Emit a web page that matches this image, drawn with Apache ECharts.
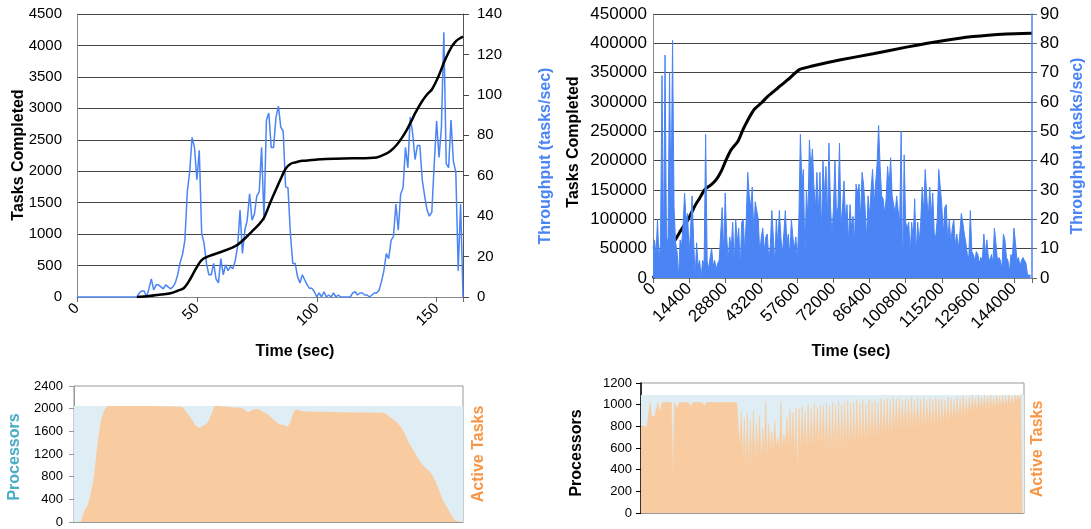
<!DOCTYPE html>
<html>
<head>
<meta charset="utf-8" />
<title>Tasks completed, throughput and active tasks</title>
<script type="text/javascript" src="https://cdn.jsdelivr.net/npm/echarts@6/dist/echarts.min.js"></script>
<style>
  html, body { margin: 0; padding: 0; background: #fff; }
  #main { width: 1091px; height: 529px; }
</style>
</head>
<body>
<div id="main"></div>
<script type="text/javascript">
// ---- short run (left column), time in seconds ----
// throughput, one value per second from t = 0 to 161
var shortRate = [
  0, 0, 0, 0, 0, 0, 0, 0, 0, 0,
  0, 0, 0, 0, 0, 0, 0, 0, 0, 0,
  0, 0, 0, 0, 0, 0, 2, 3, 3, 0,
  4, 9, 3.5, 6, 6, 5, 4, 6, 5, 4,
  5, 7, 11, 17, 21, 28, 52, 62, 79, 74,
  58, 72.6, 31.5, 26.5, 16.6, 11, 11, 16.6, 9, 7,
  19, 11, 16, 13, 15, 14, 18, 25, 43, 21.5,
  33, 38, 51, 38, 41, 50, 52, 74, 38, 87.5,
  91, 74, 74, 89, 94.4, 84, 82, 54.5, 54, 31.5,
  16.6, 16.6, 10, 7, 11, 8.4, 6, 4.3, 4.3, 2.6,
  0, 2, 0, 2.6, 0, 1, 0, 2, 0, 1,
  0, 0, 0, 0, 0, 2, 2.6, 1, 2, 2,
  1, 1, 0, 1, 2, 2, 3.5, 7.6, 13, 21.5,
  19, 28, 30, 46, 33, 51, 54, 74, 64, 89,
  81, 68, 75, 75, 58, 50, 43, 40, 42, 66,
  87, 69, 84, 131, 66, 64, 87.5, 67, 62, 13,
  46, 0
];
var shortDoneT = [25, 30, 35, 39, 42, 44.5, 47, 49.3, 51.4, 53,
  55, 60, 65, 67, 70, 73, 76, 78, 80.5, 83,
  85, 87, 89, 91, 94, 100, 107, 115, 125, 129,
  131, 133.3, 135.5, 137.5, 139.5, 141, 143.8, 146, 148, 150.7,
  153.5, 156.3, 158.3, 160, 161];
var shortDone = [0, 16, 40, 59, 100, 140, 270, 430, 560, 615,
  650, 715, 790, 830, 930, 1045, 1160, 1260, 1490, 1710,
  1880, 2040, 2115, 2140, 2165, 2185, 2200, 2205, 2220, 2280,
  2330, 2417, 2530, 2655, 2800, 2920, 3105, 3220, 3300, 3503,
  3768, 3980, 4075, 4120, 4139];
var shortActiveT = [0, 2.5, 3.9, 5.9, 8, 9.3, 10.7, 12, 13.5, 15.6,
  30, 44.6, 45, 48, 50.8, 52, 53.6, 55, 57, 58.5,
  60.5, 64.6, 67.4, 68.7, 70, 72.1, 74.2, 76.3, 77.6, 79.7,
  82.5, 85.2, 87.3, 88.2, 89.6, 90.7, 92.1, 94.1, 96.2, 107.2,
  118.2, 127.8, 130.6, 133.3, 136.1, 138.8, 141.6, 144.3, 147.8, 150.5,
  152.6, 155.4, 157.5, 159.3, 160.2, 161];
var shortActive = [0, 0, 158, 334, 743, 1212, 1680, 1914, 2031, 2045,
  2045, 2030, 2020, 1856, 1680, 1668, 1709, 1739, 1914, 2045,
  2043, 2031, 2014, 2020, 2002, 1938, 1984, 1996, 1961, 1914,
  1809, 1721, 1709, 1680, 1768, 1914, 1984, 1961, 1949, 1943,
  1932, 1926, 1856, 1768, 1621, 1387, 1182, 1007, 861, 626,
  392, 187, 41, 12, 0, 0];
var shortProcessors = 2048;
var shortEnd = 161;

// ---- long run (right column), time in seconds ----
var longStep = 600; // one sample every 600 s
var longRate = [
  10, 13, 8, 20, 6, 12, 69, 8, 76, 10,
  14, 70, 25, 81, 24, 12, 9, 0, 13, 11,
  18, 29, 20, 22, 8, 17, 28, 13, 0, 12,
  4, 6, 0, 6, 5, 49, 6, 3, 7, 10,
  4, 6, 3, 5, 6, 15, 24, 8, 29, 14,
  6, 14, 10, 19, 4, 20, 12, 17, 3, 19,
  20, 9, 20, 36, 28, 24, 31, 15, 26, 26,
  20, 8, 14, 17, 9, 14, 15, 6, 11, 23,
  14, 5, 20, 11, 23, 14, 8, 15, 23, 12,
  15, 7, 20, 14, 10, 14, 6, 20, 49, 32,
  37, 6, 30, 20, 47, 37, 44, 31, 24, 36,
  22, 36, 15, 40, 28, 38, 20, 46, 25, 14,
  24, 40, 22, 24, 46, 18, 24, 33, 20, 25,
  12, 25, 17, 21, 12, 32, 29, 32, 20, 36,
  32, 24, 13, 28, 21, 30, 37, 25, 32, 39,
  52, 38, 28, 27, 22, 27, 38, 31, 41, 28,
  28, 22, 28, 23, 18, 50, 0, 42, 19, 17,
  19, 8, 19, 13, 27, 8, 19, 12, 19, 31,
  22, 37, 28, 20, 31, 21, 29, 15, 14, 20,
  37, 31, 25, 15, 24, 25, 12, 20, 12, 17,
  20, 11, 15, 10, 15, 22, 19, 15, 12, 8,
  7, 23, 9, 8, 6, 9, 8, 5, 7, 6,
  15, 8, 13, 7, 6, 8, 5, 17, 12, 6,
  7, 6, 3, 15, 13, 7, 6, 2, 8, 7,
  17, 12, 6, 7, 4, 6, 7, 6, 5, 1,
  1, 1
];
var longActive = [
  800, 800, 800, 800, 800, 800, 1020, 890, 890, 890,
  890, 1020, 930, 930, 1020, 1020, 1020, 1020, 1020, 1020,
  1020, 290, 1020, 1020, 960, 1020, 1020, 1020, 1020, 1020,
  1020, 1020, 1020, 980, 1020, 1020, 1020, 1020, 1020, 1020,
  1020, 1020, 990, 1020, 1020, 1020, 1020, 1020, 1020, 1020,
  1020, 1020, 1020, 1020, 1020, 1020, 1020, 1020, 1020, 1020,
  1020, 1020, 1020, 1020, 1020, 600, 940, 450, 880, 420,
  920, 390, 860, 470, 940, 430, 830, 510, 900, 450,
  780, 520, 1025, 480, 820, 560, 760, 520, 850, 600,
  700, 540, 1025, 580, 720, 620, 880, 560, 960, 600,
  930, 520, 970, 340, 960, 560, 990, 600, 940, 540,
  1000, 590, 960, 560, 1010, 600, 980, 570, 1000, 610,
  990, 530, 1010, 520, 990, 540, 1020, 530, 1000, 550,
  1030, 545, 1000, 560, 1020, 570, 1040, 575, 1010, 590,
  1030, 600, 1050, 610, 1020, 615, 1040, 630, 1010, 640,
  1050, 650, 1030, 655, 1050, 660, 1020, 670, 1060, 675,
  1040, 680, 1060, 680, 1050, 680, 1070, 750, 1050, 750,
  1060, 752, 1040, 755, 1060, 755, 1050, 758, 1070, 760,
  1040, 762, 1060, 765, 1050, 770, 1070, 775, 1040, 780,
  1060, 785, 1050, 790, 1070, 795, 1050, 800, 1060, 810,
  1040, 820, 1070, 830, 1060, 840, 1050, 850, 1070, 860,
  1060, 875, 1080, 890, 1050, 905, 1070, 920, 1090, 930,
  1060, 935, 1090, 940, 1070, 945, 1090, 950, 1080, 955,
  1090, 960, 1070, 962, 1090, 965, 1080, 970, 1090, 975,
  1085, 980, 1090, 990, 1080, 1000, 1090, 1025, 1090, 1040,
  1090, 1090
];
var longDoneT = [0, 3000, 6000, 9300, 11300, 13950, 16600, 18600, 20600, 23250,
  25200, 27200, 29200, 31200, 33900, 35900, 37900, 40500, 43200, 45800,
  49800, 53800, 58400, 63100, 74400, 87800, 101100, 114400, 127700, 141000, 151000];
var longDone = [0, 20000, 45000, 68000, 82400, 99400, 122000, 136000, 150500, 159000,
  167600, 181800, 201700, 218800, 233000, 252800, 269900, 288000, 298300, 309700,
  323900, 338000, 355100, 360800, 371500, 382200, 393500, 403700, 411600, 416100, 417300];
var longProcessors = 1090;
var longEnd = 151200;

var blue = '#4a84f5';
var teal = '#4bacc6';
var orange = '#f79646';
var font = 'Liberation Sans, Arial, sans-serif';

function pairs(xs, ys) {
  var out = [];
  for (var i = 0; i < ys.length; i++) out.push([xs[i], ys[i]]);
  return out;
}
function stepped(ys, step) {
  var out = [];
  for (var i = 0; i < ys.length; i++) out.push([i * step, ys[i]]);
  return out;
}
function vText(x, y, text, color) {
  return { type: 'text', x: x, y: y, rotation: Math.PI / 2,
    style: { text: text, fill: color, font: 'bold 16px ' + font, align: 'center', verticalAlign: 'middle' } };
}
function hText(x, y, text) {
  return { type: 'text', x: x, y: y,
    style: { text: text, fill: '#000', font: 'bold 16px ' + font, align: 'center', verticalAlign: 'middle' } };
}
function plain(v) { return String(v); }

var myChart = echarts.init(document.getElementById('main'));
var tickLabel = { color: '#000', fontFamily: font, fontSize: 15, formatter: plain };
var bigLabel = { color: '#000', fontFamily: font, fontSize: 17, formatter: plain };
var smallLabel = { color: '#000', fontFamily: font, fontSize: 13, formatter: plain };
var grid = { lineStyle: { color: '#444', width: 1 } };

var option = {
  animation: false,
  grid: [
    { left: 77, top: 14, width: 386, height: 283 },
    { left: 653, top: 14, width: 379, height: 264 },
    { left: 74, top: 386, width: 389, height: 136, show: true, borderColor: '#999', borderWidth: 1 },
    { left: 641, top: 383, width: 383, height: 130, show: true, borderColor: '#999', borderWidth: 1 }
  ],
  xAxis: [
    { gridIndex: 0, type: 'value', min: 0, max: shortEnd, interval: 50,
      axisLine: { lineStyle: { color: '#888' } }, axisTick: { length: 5, lineStyle: { color: '#666' } },
      axisLabel: Object.assign({}, tickLabel, { rotate: 45, margin: 9, formatter: function (v) { return v % 50 === 0 ? String(v) : ''; } }),
      splitLine: { show: false } },
    { gridIndex: 1, type: 'value', min: 0, max: longEnd, interval: 14400,
      axisLine: { lineStyle: { color: '#888' } }, axisTick: { length: 5, lineStyle: { color: '#666' } },
      axisLabel: Object.assign({}, bigLabel, { rotate: 45, margin: 8, formatter: function (v) { return v % 14400 === 0 ? String(v) : ''; } }),
      splitLine: { show: false } },
    { gridIndex: 2, type: 'value', min: 0, max: shortEnd,
      axisLine: { lineStyle: { color: '#999' } }, axisTick: { show: false }, axisLabel: { show: false }, splitLine: { show: false } },
    { gridIndex: 3, type: 'value', min: 0, max: longEnd,
      axisLine: { lineStyle: { color: '#999' } }, axisTick: { show: false }, axisLabel: { show: false }, splitLine: { show: false } }
  ],
  yAxis: [
    { gridIndex: 0, type: 'value', min: 0, max: 4500, interval: 500,
      axisLine: { show: true, lineStyle: { color: '#888' } }, axisTick: { show: false },
      axisLabel: Object.assign({ margin: 15 }, tickLabel), splitLine: grid },
    { gridIndex: 0, type: 'value', position: 'right', min: 0, max: 140, interval: 20,
      axisLine: { show: true, lineStyle: { color: '#555' } }, axisTick: { show: true, length: 6, lineStyle: { color: '#444' } },
      axisLabel: Object.assign({ margin: 14 }, tickLabel), splitLine: { show: false } },
    { gridIndex: 1, type: 'value', min: 0, max: 450000, interval: 50000,
      axisLine: { show: true, lineStyle: { color: '#888' } }, axisTick: { show: false },
      axisLabel: Object.assign({ margin: 6 }, bigLabel), splitLine: grid },
    { gridIndex: 1, type: 'value', position: 'right', min: 0, max: 90, interval: 10,
      axisLine: { show: true, lineStyle: { color: blue, width: 1.5 } }, axisTick: { show: true, length: 5, lineStyle: { color: '#666' } },
      axisLabel: Object.assign({ margin: 8 }, bigLabel), splitLine: { show: false } },
    { gridIndex: 2, type: 'value', min: 0, max: 2400, interval: 400,
      axisLine: { show: true, lineStyle: { color: '#999' } }, axisTick: { show: true, length: 5, lineStyle: { color: '#999' } },
      axisLabel: Object.assign({ margin: 11 }, smallLabel), splitLine: { show: false } },
    { gridIndex: 3, type: 'value', min: 0, max: 1200, interval: 200,
      axisLine: { show: true, lineStyle: { color: '#000', width: 1.5 } }, axisTick: { show: true, length: 5, lineStyle: { color: '#000' } },
      axisLabel: Object.assign({ margin: 9 }, smallLabel), splitLine: { show: false } }
  ],
  graphic: [
    vText(18.5, 155, 'Tasks Completed', '#000'),
    hText(295, 352, 'Time (sec)'),
    vText(546, 156, 'Throughput (tasks/sec)', blue),
    vText(574, 142, 'Tasks Completed', '#000'),
    hText(851, 352, 'Time (sec)'),
    vText(1078, 146, 'Throughput (tasks/sec)', blue),
    vText(15, 457, 'Processors', teal),
    vText(478.5, 454, 'Active Tasks', orange),
    vText(577, 453, 'Processors', '#000'),
    vText(1038, 449, 'Active Tasks', orange)
  ],
  series: [
    { name: 'Throughput', type: 'line', xAxisIndex: 0, yAxisIndex: 1, showSymbol: false, z: 2,
      data: stepped(shortRate, 1), lineStyle: { color: blue, width: 1.5 } },
    { name: 'Tasks Completed', type: 'line', xAxisIndex: 0, yAxisIndex: 0, showSymbol: false, smooth: 0.3, z: 3,
      data: pairs(shortDoneT, shortDone), lineStyle: { color: '#000', width: 2.5 } },
    { name: 'Tasks Completed', type: 'line', xAxisIndex: 1, yAxisIndex: 2, showSymbol: false, smooth: 0.2, z: 2,
      data: pairs(longDoneT, longDone), lineStyle: { color: '#000', width: 3 } },
    { name: 'Throughput', type: 'line', xAxisIndex: 1, yAxisIndex: 3, showSymbol: false, z: 3,
      data: stepped(longRate, longStep), lineStyle: { color: blue, width: 1 },
      areaStyle: { color: blue, opacity: 1 } },
    { name: 'Processors', type: 'line', xAxisIndex: 2, yAxisIndex: 4, showSymbol: false,
      data: [[0, shortProcessors], [shortEnd, shortProcessors]], lineStyle: { width: 0 },
      areaStyle: { color: '#deeef4', opacity: 1 } },
    { name: 'Active Tasks', type: 'line', xAxisIndex: 2, yAxisIndex: 4, showSymbol: false, smooth: 0.3,
      data: pairs(shortActiveT, shortActive), lineStyle: { width: 0 },
      areaStyle: { color: '#f9cba0', opacity: 1 } },
    { name: 'Processors', type: 'line', xAxisIndex: 3, yAxisIndex: 5, showSymbol: false,
      data: [[0, longProcessors], [longEnd, longProcessors]], lineStyle: { width: 0 },
      areaStyle: { color: '#deeef4', opacity: 1 } },
    { name: 'Active Tasks', type: 'line', xAxisIndex: 3, yAxisIndex: 5, showSymbol: false,
      data: stepped(longActive, longStep), lineStyle: { color: '#f9cba0', width: 0.6 },
      areaStyle: { color: '#f9cba0', opacity: 1 } }
  ]
};
myChart.setOption(option);
</script>
</body>
</html>
